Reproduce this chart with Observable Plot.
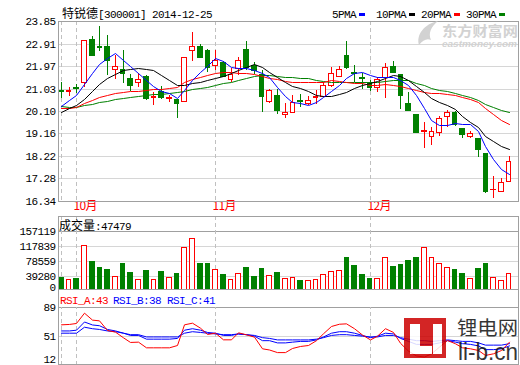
<!DOCTYPE html>
<html><head><meta charset="utf-8">
<script src="https://cdn.jsdelivr.net/npm/d3@7"></script>
<script src="https://cdn.jsdelivr.net/npm/@observablehq/plot@0.6"></script>
<style>
body{margin:0;background:#fff;}
#wrap{position:relative;width:520px;height:365px;overflow:hidden;background:#fff;}
#wrap svg{position:absolute;left:0;background:transparent !important;overflow:visible;}
</style></head><body><div id="wrap"></div>
<script>
// ---- data ----
const stockTitle = "特锐德";
const stockCode = "[300001] 2014-12-25";
const open  = [20.97,20.92,21.10,21.29,23.09,22.82,22.80,21.86,21.84,21.48,21.31,21.55,20.66,20.93,20.62,20.59,20.51,22.66,22.80,22.63,22.03,22.14,21.41,21.89,22.67,22.03,21.62,20.51,20.76,19.95,20.06,20.55,20.44,20.66,20.72,21.17,21.56,22.45,21.72,21.51,21.29,21.08,21.52,21.96,21.62,20.41,19.95,19.25,19.06,19.20,19.88,20.04,19.37,19.06,18.98,18.35,16.82,16.76,17.19];
const high  = [21.32,21.08,21.24,23.05,23.23,23.63,23.25,22.42,22.66,21.63,21.69,21.59,20.89,21.13,20.76,20.59,22.33,23.39,22.91,22.70,22.63,22.18,21.87,22.35,23.00,22.14,21.80,21.03,21.01,20.41,20.76,20.80,20.72,20.96,21.31,21.93,21.98,23.00,22.01,21.66,21.38,21.52,22.08,22.17,21.62,20.87,19.95,19.65,19.44,19.88,20.13,20.09,19.37,19.26,18.98,18.35,17.38,17.29,18.22];
const low   = [20.65,20.72,20.83,21.10,22.42,22.60,21.59,21.45,21.27,20.94,21.08,20.55,20.34,20.59,20.48,19.81,20.51,22.17,22.35,21.73,21.80,21.55,21.31,21.59,21.80,21.62,20.06,20.41,19.97,19.81,20.06,20.27,20.34,20.37,20.72,21.10,21.52,21.84,21.31,21.03,20.92,20.89,20.64,21.73,20.16,20.10,19.20,18.54,18.68,19.06,19.44,19.48,18.98,18.95,18.19,16.69,16.48,16.73,17.19];
const close = [20.91,20.98,21.07,23.05,22.45,22.78,22.24,21.96,21.70,21.17,21.45,20.62,20.71,20.69,20.66,20.41,22.33,22.80,22.35,21.93,22.21,21.55,21.62,22.21,21.93,21.80,20.73,20.96,20.13,20.06,20.45,20.50,20.55,20.71,21.17,21.70,21.84,21.93,21.66,21.47,21.10,21.45,21.91,21.73,20.76,20.13,19.20,19.29,19.26,19.79,20.06,19.54,19.13,19.16,18.50,16.76,16.86,17.12,18.02];
const volume = [37500,31400,34900,120500,79400,63700,57600,39300,74200,50600,31400,55000,31400,53200,35800,46300,114300,137900,74200,74200,56700,44500,30500,46300,61900,40200,60200,41000,49800,33200,35800,28800,28800,30500,43600,52400,55000,88100,68100,44500,34000,34000,88100,65500,70700,81200,89000,114300,88100,72400,61900,56700,46300,33200,59300,73300,37500,28800,47479];
const ma5  = [20.30,20.54,20.76,21.21,21.69,22.07,22.32,22.50,22.23,21.97,21.70,21.38,21.13,20.93,20.83,20.62,20.96,21.38,21.71,21.96,22.32,22.17,21.93,21.90,21.90,21.82,21.66,21.53,21.11,20.74,20.47,20.42,20.34,20.45,20.68,20.93,21.19,21.47,21.66,21.72,21.60,21.52,21.52,21.53,21.39,21.20,20.75,20.22,19.73,19.53,19.52,19.59,19.56,19.54,19.28,18.62,18.08,17.68,17.45];
const ma10 = [20.04,20.20,20.34,20.60,20.92,21.22,21.48,21.65,21.80,21.83,21.89,21.85,21.81,21.58,21.40,21.16,21.17,21.25,21.32,21.40,21.47,21.56,21.66,21.81,21.93,22.07,21.91,21.73,21.51,21.32,21.14,21.04,20.93,20.78,20.71,20.70,20.81,20.90,21.06,21.20,21.26,21.36,21.49,21.60,21.56,21.40,21.13,20.87,20.63,20.46,20.36,20.17,19.89,19.63,19.41,19.07,18.84,18.62,18.49];
const ma20 = [20.20,20.24,20.28,20.42,20.55,20.66,20.76,20.84,20.88,20.92,20.95,20.97,21.00,21.03,21.06,21.10,21.30,21.42,21.52,21.61,21.68,21.71,21.73,21.69,21.67,21.62,21.54,21.49,21.41,21.36,21.31,21.30,21.29,21.29,21.32,21.38,21.36,21.32,21.28,21.26,21.20,21.20,21.21,21.19,21.13,21.05,20.97,20.89,20.84,20.83,20.81,20.76,20.69,20.61,20.48,20.23,19.98,19.74,19.56];
const ma30 = [20.30,20.28,20.27,20.33,20.40,20.47,20.53,20.58,20.63,20.68,20.72,20.76,20.79,20.82,20.85,20.88,20.95,21.01,21.06,21.10,21.17,21.25,21.32,21.40,21.48,21.55,21.58,21.58,21.57,21.52,21.50,21.48,21.47,21.39,21.35,21.31,21.30,21.30,21.29,21.30,21.29,21.32,21.36,21.40,21.40,21.39,21.28,21.17,21.06,20.99,20.92,20.85,20.77,20.67,20.56,20.39,20.26,20.13,20.06];
const rsiA = [66.2,66.7,68.0,81.8,72.5,71.5,58.6,56.4,48.8,42.6,43.0,35.4,35.4,35.4,35.4,38.5,66.2,68.4,61.7,53.3,55.0,46.1,46.1,55.5,52.8,49.7,34.1,32.5,29,29,34.5,37.2,38.5,45,54.2,64,67,67.5,61,52.5,46,51,61,56,41.5,31,24.5,23,27.4,36.3,45.2,40.8,35.4,34.1,31.8,25.2,27.4,31.8,43];
const rsiB = [58,58,59,70,66,65,60,58,55,52,52,47,47,47,47,48,59,61,59,56,55,52,52,54,53,51,45,45,42,42,43,44,44,46,50,55,57,57,55,52,49,51,55,54,48,44,40,40,40,42,45,43,41,40,38,33,33,34,38];
const rsiC = [55,55,55,63,61,60,58,57,55,53,53,50,50,50,50,50,55,57,56,55,54,53,53,54,53,52,49,48,46,46,46,46,46,47,49,52,53,53,52,51,50,50,52,52,49,47,45,45,44,45,46,45,44,44,42,39,39,39,41];
const priceTicks = [23.85,22.91,21.97,21.03,20.10,19.16,18.22,17.28,16.34];
const volTicks = [0,39280,78559,117839,157119];
const rsiTicks = [12,51,89];
const monthIdx = [2,20,40];
const monthLabels = ["10月","11月","12月"];
const dashIdx = [0,2,20,40];
const legendLabels = ["5PMA","10PMA","20PMA","30PMA"];
const legendColors = ["#0000ff","#000000","#ff0000","#008000"];

// ---- build ----
const RED="#ff0000", GRN="#008000", BLU="#0000ff", GRID="#d6d6d6", FRAME="#a0a0a0", DASH="#c0c0c0";
const HW = 0.37;
const CR = "crispEdges";
const rows = close.map((c,i)=>({i, o:open[i], h:high[i], l:low[i], c, v:volume[i], up:c>=open[i]}));
const ups = rows.filter(d=>d.up), downs = rows.filter(d=>!d.up);
const xs = {type:"linear", domain:[-0.36,59.22], axis:null, round:true};
const baseStyle = {fontFamily:"'Liberation Mono', monospace", fontSize:"11px", letterSpacing:"-0.6px", color:"#000", background:"transparent", overflow:"visible"};
const wrap = document.getElementById("wrap");
const idx = (d,i)=>i;
const bx1 = d=>d.i-HW, bx2 = d=>d.i+HW;

const main = Plot.plot({
  width:520, height:216, marginLeft:58, marginRight:2, marginTop:21, marginBottom:15,
  style: baseStyle, x: xs,
  y:{domain:[16.34,23.85], ticks:priceTicks, tickFormat:d=>d.toFixed(2), tickSize:0, tickPadding:3, label:null, round:true},
  marks:[
    Plot.ruleY(priceTicks.slice(1,-1), {stroke:GRID, shapeRendering:CR}),
    Plot.ruleX(dashIdx, {stroke:DASH, strokeDasharray:"4,3", shapeRendering:CR}),
    Plot.ruleX(ups, {x:"i", y1:"l", y2:"h", stroke:RED, shapeRendering:CR}),
    Plot.ruleX(downs, {x:"i", y1:"l", y2:"h", stroke:GRN, shapeRendering:CR}),
    Plot.rect(ups, {x1:bx1, x2:bx2, y1:"o", y2:"c", fill:RED, insetTop:-0.5, insetBottom:-0.5, shapeRendering:CR}),
    Plot.rect(ups, {x1:bx1, x2:bx2, y1:"o", y2:"c", fill:"white", insetLeft:1, insetRight:1, insetTop:0.5, insetBottom:0.5, shapeRendering:CR}),
    Plot.rect(downs, {x1:bx1, x2:bx2, y1:"o", y2:"c", fill:GRN, insetTop:-0.5, insetBottom:-0.5, shapeRendering:CR}),
    Plot.line(ma30, {x:idx, y:d=>d, stroke:GRN, strokeWidth:1, clip:true}),
    Plot.line(ma20, {x:idx, y:d=>d, stroke:RED, strokeWidth:1, clip:true}),
    Plot.line(ma10, {x:idx, y:d=>d, stroke:"#000", strokeWidth:1, clip:true}),
    Plot.line(ma5,  {x:idx, y:d=>d, stroke:BLU, strokeWidth:1, clip:true}),
    Plot.text(monthIdx, {x:d=>d, text:(d,i)=>monthLabels[i], frameAnchor:"bottom", dy:8, dx:-3, textAnchor:"start", fill:RED, fontFamily:"'Noto Sans CJK SC'", fontSize:12}),
    Plot.frame({stroke:FRAME, shapeRendering:CR})
  ]
});
main.style.top = "0px";
wrap.appendChild(main);

const vol = Plot.plot({
  width:520, height:74, marginLeft:58, marginRight:2, marginTop:0, marginBottom:1,
  style: baseStyle, x: xs,
  y:{domain:[0,157119], range:[75,15], axis:null, round:true},
  marks:[
    Plot.ruleY(volTicks.slice(1,-1), {stroke:GRID, shapeRendering:CR}),
    Plot.ruleY(volTicks.slice(-1), {stroke:FRAME, shapeRendering:CR}),
    Plot.ruleX(dashIdx, {stroke:DASH, strokeDasharray:"4,3", shapeRendering:CR}),
    Plot.rect(ups, {x1:bx1, x2:bx2, y1:0, y2:"v", fill:RED, clip:true, shapeRendering:CR}),
    Plot.rect(ups, {x1:bx1, x2:bx2, y1:0, y2:"v", fill:"white", insetLeft:1, insetRight:1, insetTop:1, clip:true, shapeRendering:CR}),
    Plot.rect(downs, {x1:bx1, x2:bx2, y1:0, y2:"v", fill:GRN, clip:true, shapeRendering:CR}),
    Plot.text(volTicks.slice(1), {y:d=>d, frameAnchor:"left", textAnchor:"end", dx:-3, text:d=>String(d)}),
    Plot.text(volTicks.slice(0,1), {y:d=>d, frameAnchor:"left", textAnchor:"end", dx:-3, dy:-4, text:d=>String(d)}),
    Plot.frame({stroke:FRAME, shapeRendering:CR})
  ]
});
vol.style.top = "216px";
wrap.appendChild(vol);

const rsi = Plot.plot({
  width:520, height:76, marginLeft:58, marginRight:2, marginTop:0, marginBottom:1,
  style: baseStyle, x: xs,
  y:{domain:[12,89], range:[75.8,18.3], axis:null},
  marks:[
    Plot.ruleY([51], {stroke:GRID, shapeRendering:CR}),
    Plot.ruleY([89], {stroke:FRAME, shapeRendering:CR}),
    Plot.ruleX(dashIdx, {y1:12, y2:89, stroke:DASH, strokeDasharray:"4,3", shapeRendering:CR}),
    Plot.line(rsiC, {x:idx, y:d=>d, stroke:BLU, strokeWidth:1, clip:true}),
    Plot.line(rsiB, {x:idx, y:d=>d, stroke:BLU, strokeWidth:1, clip:true}),
    Plot.line(rsiA, {x:idx, y:d=>d, stroke:RED, strokeWidth:1, clip:true}),
    Plot.text(rsiTicks.slice(1), {y:d=>d, frameAnchor:"left", textAnchor:"end", dx:-3, text:d=>String(d)}),
    Plot.text(rsiTicks.slice(0,1), {y:d=>d, frameAnchor:"left", textAnchor:"end", dx:-3, dy:-6, text:d=>String(d)}),
    Plot.frame({stroke:FRAME, shapeRendering:CR})
  ]
});
rsi.style.top = "289px";
wrap.appendChild(rsi);

// ---- overlay: titles, legend, headers, watermarks ----
const ov = d3.create("svg").attr("width",520).attr("height",365).style("top","0px");
const mono = "'Liberation Mono', monospace", cjk = "'Noto Sans CJK SC', sans-serif";
// eastmoney watermark
const em = ov.append("g").attr("fill","#d2d2d2");
em.append("path").attr("d","M419,45 C416,35 424,24 438,21 C431,27 428,33 431,40 C427,38 423,40 419,45 Z");
em.append("text").attr("x",442).attr("y",36).attr("font-family",cjk).attr("font-size",14).attr("font-weight","bold").attr("textLength",76).attr("lengthAdjust","spacingAndGlyphs").text("东方财富网");
em.append("text").attr("x",442).attr("y",47).attr("font-family","'Liberation Sans', sans-serif").attr("font-size",9).attr("font-weight","bold").attr("font-style","italic").attr("textLength",75).attr("lengthAdjust","spacingAndGlyphs").text("eastmoney.com");
// title
const t = ov.append("text").attr("x",62).attr("y",18).attr("fill","#000");
t.append("tspan").attr("font-family",cjk).attr("font-size",12).text(stockTitle);
t.append("tspan").attr("font-family",mono).attr("font-size",11).attr("letter-spacing","-0.6px").text(stockCode);
// legend
let lx = 332;
legendLabels.forEach((lab,k)=>{
  ov.append("text").attr("x",lx).attr("y",17.5).attr("font-family",mono).attr("font-size",11).attr("letter-spacing","-0.6px").text(lab);
  const w = lab.length*6;
  ov.append("rect").attr("x",lx+w+3).attr("y",13).attr("width",6).attr("height",3).attr("fill",legendColors[k]);
  lx += w + 15 + (k===0?5:0);
});
// volume header
const vt = ov.append("text").attr("x",59).attr("y",229.5).attr("fill","#000");
vt.append("tspan").attr("font-family",cjk).attr("font-size",12).text("成交量");
vt.append("tspan").attr("font-family",mono).attr("font-size",11).attr("letter-spacing","-0.6px").text(":" + volume[volume.length-1]);
// RSI header
const rh = [["RSI_A:"+Math.round(rsiA[rsiA.length-1]),RED,60],["RSI_B:"+Math.round(rsiB[rsiB.length-1]),BLU,113],["RSI_C:"+Math.round(rsiC[rsiC.length-1]),BLU,167]];
rh.forEach(([s,c,x])=>ov.append("text").attr("x",x).attr("y",304).attr("fill",c).attr("font-family",mono).attr("font-size",11).attr("letter-spacing","-0.6px").text(s));
// li-b.cn watermark
const lb = ov.append("g").attr("opacity",0.85);
lb.append("rect").attr("x",404).attr("y",318).attr("width",42).attr("height",40).attr("fill","#cc0000");
lb.append("rect").attr("x",410).attr("y",324).attr("width",10).attr("height",30).attr("fill","#fff");
lb.append("rect").attr("x",410).attr("y",346).attr("width",22).attr("height",8).attr("fill","#fff");
lb.append("rect").attr("x",433).attr("y",324).attr("width",9).attr("height",30).attr("fill","#fff");
lb.append("text").attr("x",457).attr("y",335).attr("font-family",cjk).attr("font-size",19).attr("textLength",61).attr("lengthAdjust","spacingAndGlyphs").attr("fill","#111").text("锂电网");
lb.append("text").attr("x",458).attr("y",360).attr("font-family","'Liberation Sans', sans-serif").attr("font-size",23).attr("textLength",60).attr("lengthAdjust","spacingAndGlyphs").attr("fill","#111").text("li-b.cn");
wrap.appendChild(ov.node());
</script></body></html>
